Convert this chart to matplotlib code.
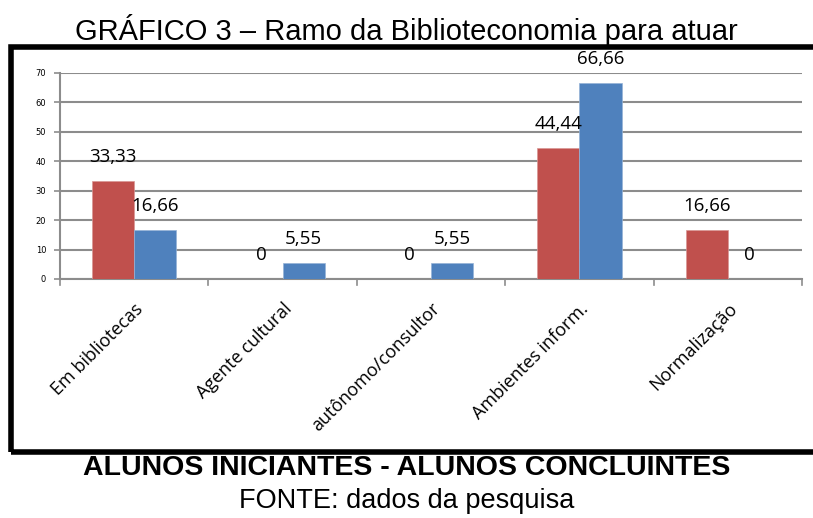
import numpy as np
import matplotlib.pyplot as plt
from matplotlib.patches import Rectangle

# Dados do gráfico
categorias = ["Em bibliotecas", "Agente cultural", "autônomo/consultor",
              "Ambientes inform.", "Normalização"]
iniciantes = [33.33, 0, 0, 44.44, 16.66]
concluintes = [16.66, 5.55, 5.55, 66.66, 0]
rotulos_ini = ["33,33", "0", "0", "44,44", "16,66"]
rotulos_con = ["16,66", "5,55", "5,55", "66,66", "0"]

cor_ini = "#C0504D"
cor_con = "#4F81BD"
cor_grade = "#8C8C8C"

fig = plt.figure(figsize=(8.13, 5.18), dpi=100)

# Moldura em volta do gráfico
fig.patches.append(Rectangle((0.013, 0.127), 0.99, 0.783, transform=fig.transFigure,
                             fill=False, edgecolor="black", linewidth=4, zorder=0))

ax = fig.add_axes([0.0738, 0.4614, 0.9127, 0.398])

x = np.arange(len(categorias))
w = 0.285
ax.bar(x - w / 2, iniciantes, w, color=cor_ini, edgecolor="#D99694", linewidth=0.5, zorder=3)
ax.bar(x + w / 2, concluintes, w, color=cor_con, edgecolor="#95B3D7", linewidth=0.5, zorder=3)

# Rótulos de dados (deslocados para cima)
for i in range(len(categorias)):
    ax.annotate(rotulos_ini[i], (x[i] - w / 2, iniciantes[i]), xytext=(0, 17),
                textcoords="offset points", ha="center", va="center",
                fontsize=13.5, family="Open Sans", zorder=4)
    ax.annotate(rotulos_con[i], (x[i] + w / 2, concluintes[i]), xytext=(0, 17),
                textcoords="offset points", ha="center", va="center",
                fontsize=13.5, family="Open Sans", zorder=4, annotation_clip=False)

ax.set_xlim(-0.5, len(categorias) - 0.5)
ax.set_ylim(0, 70)
ax.set_yticks(range(0, 71, 10))
ax.tick_params(axis="y", labelsize=6, length=4, color=cor_grade, width=1.2, pad=6)
ax.yaxis.grid(True, color=cor_grade, linewidth=1.5, zorder=0)

ax.set_xticks(x)
ax.set_xticklabels(categorias, rotation=45, ha="right", rotation_mode="anchor",
                   fontsize=13, family="Open Sans")
ax.tick_params(axis="x", length=0, pad=15)
for b in np.arange(-0.5, len(categorias), 1.0):
    ax.plot([b, b], [0, -2.2], color=cor_grade, linewidth=1.2, clip_on=False, zorder=2)

for s in ["top", "right"]:
    ax.spines[s].set_visible(False)
for s in ["left", "bottom"]:
    ax.spines[s].set_color(cor_grade)
    ax.spines[s].set_linewidth(1.5)

fig.text(0.5, 0.923, "GRÁFICO 3 – Ramo da Biblioteconomia para atuar",
         ha="center", va="baseline", fontsize=21, family="Liberation Sans")
fig.text(0.5, 0.097, "ALUNOS INICIANTES - ALUNOS CONCLUINTES",
         ha="center", va="center", fontsize=20.5, fontweight="bold", family="Liberation Sans")
fig.text(0.5, 0.033, "FONTE: dados da pesquisa",
         ha="center", va="center", fontsize=19.5, family="Liberation Sans")

fig.savefig("out.png", dpi=100)
